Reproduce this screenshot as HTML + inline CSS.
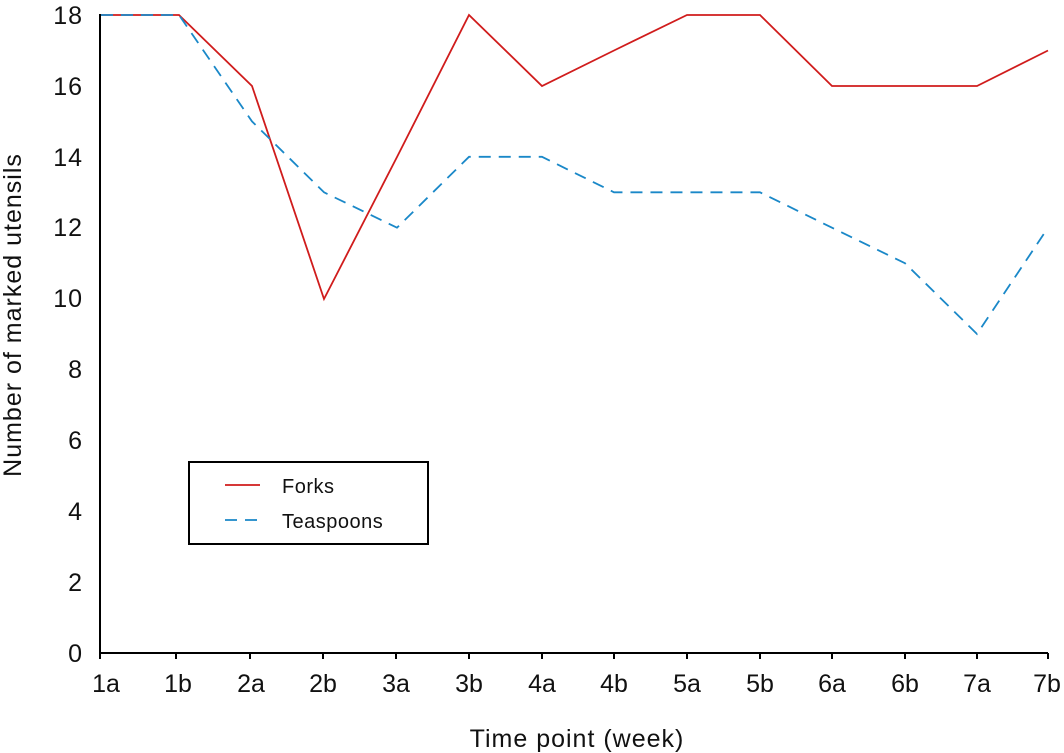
<!DOCTYPE html>
<html><head><meta charset="utf-8"><style>body{margin:0;background:#fff}svg{display:block}text{font-family:"Liberation Sans","DejaVu Sans",sans-serif;fill:#111}</style></head><body>
<svg width="1064" height="753" viewBox="0 0 1064 753">
<g stroke="#000" stroke-width="2" fill="none">
<path d="M100,14 V653 H1048"/>
<path d="M100,653v6M176,653v6M250,653v6M323,653v6M396,653v6M469,653v6M542,653v6M614,653v6M687,653v6M760,653v6M832,653v6M905,653v6M977,653v6M1048,653v6"/>
</g>
<g font-size="25" text-anchor="end" letter-spacing="1">
<text x="83" y="662">0</text><text x="83" y="591">2</text><text x="83" y="520">4</text><text x="83" y="449">6</text><text x="83" y="378">8</text><text x="83" y="307">10</text><text x="83" y="236">12</text><text x="83" y="166">14</text><text x="83" y="95">16</text><text x="83" y="24">18</text>
</g>
<g font-size="25" text-anchor="middle">
<text x="106" y="692">1a</text><text x="178" y="692">1b</text><text x="251" y="692">2a</text><text x="323" y="692">2b</text><text x="396" y="692">3a</text><text x="469" y="692">3b</text><text x="542" y="692">4a</text><text x="614" y="692">4b</text><text x="687" y="692">5a</text><text x="760" y="692">5b</text><text x="832" y="692">6a</text><text x="905" y="692">6b</text><text x="977" y="692">7a</text><text x="1047" y="692">7b</text>
<text x="577" y="747" letter-spacing="1">Time point (week)</text>
<text transform="translate(21,315) rotate(-90)" letter-spacing="1">Number of marked utensils</text>
</g>
<polyline fill="none" stroke="#d01c1c" stroke-width="1.8" points="101,15 179,15 252,86 324,299 397,157 469,15 542,86 614,50.5 687,15 760,15 832,86 905,86 977,86 1048,50.5"/>
<polyline fill="none" stroke="#1a88c8" stroke-width="1.8" stroke-dasharray="12,8" points="101,15 179,15 252,121.4 324,192.3 397,227.7 469,156.8 542,156.8 614,192.3 687,192.3 760,192.3 832,227.7 905,263.2 977,334 1048,227.7"/>
<rect x="189" y="462" width="239" height="82" fill="#fff" stroke="#000" stroke-width="2"/>
<line x1="225" y1="485" x2="260" y2="485" stroke="#d01c1c" stroke-width="1.8"/>
<line x1="225" y1="520" x2="260" y2="520" stroke="#1a88c8" stroke-width="1.8" stroke-dasharray="12,8"/>
<text x="282" y="493" font-size="20" letter-spacing="0.5">Forks</text>
<text x="282" y="528" font-size="20" letter-spacing="0.5">Teaspoons</text>
</svg>
</body></html>
